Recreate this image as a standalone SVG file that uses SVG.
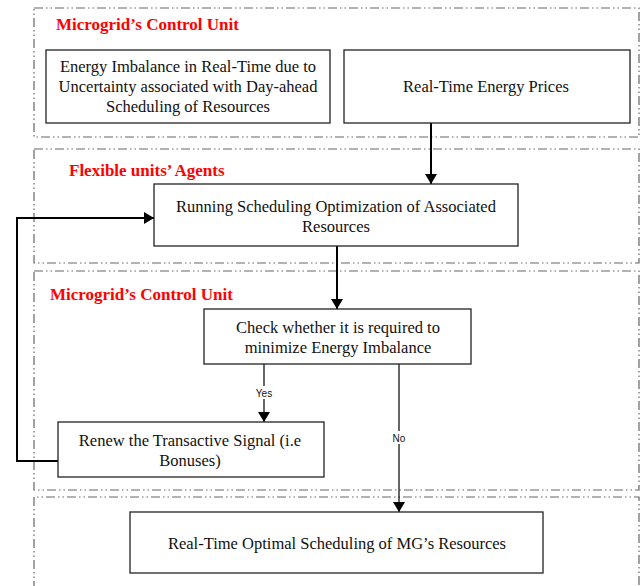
<svg xmlns="http://www.w3.org/2000/svg" width="644" height="586" viewBox="0 0 644 586">
<style>
.grp{fill:none;stroke:#666;stroke-width:1.2;stroke-dasharray:9 3 1.5 3 1.5 3}
.box{fill:#fff;stroke:#222;stroke-width:1.3}
.t{font-family:"Liberation Serif","Times New Roman",serif;font-size:16.5px;fill:#111;text-anchor:middle}
.h{font-family:"Liberation Serif","Times New Roman",serif;font-size:17px;font-weight:bold;fill:#ff0000}
.lbl{font-family:"Liberation Sans",Arial,sans-serif;font-size:10px;fill:#111;text-anchor:middle}
.c{fill:none;stroke:#000;stroke-width:2}
.c1{fill:none;stroke:#000;stroke-width:1.2}
</style>
<defs>
<marker id="ah" markerWidth="10" markerHeight="12" refX="10" refY="6" orient="auto" markerUnits="userSpaceOnUse">
<path d="M0,0 L10,6 L0,12 Z" fill="#000"/>
</marker>
</defs>
<rect width="644" height="586" fill="#fff"/>
<g id="groups">
<rect class="grp" x="34" y="8" width="605" height="129"/>
<rect class="grp" x="34" y="149" width="605" height="114"/>
<rect class="grp" x="34" y="271" width="605" height="219"/>
<path class="grp" d="M34,590 L34,497 L639,497 L639,590"/>
<text class="h" x="56" y="30">Microgrid’s Control Unit</text>
<text class="h" x="69" y="176">Flexible units’ Agents</text>
<text class="h" x="50" y="300">Microgrid’s Control Unit</text>
</g>
<g id="connectors">
<line class="c" x1="431" y1="123" x2="431" y2="184" marker-end="url(#ah)"/>
<line class="c" x1="337" y1="246" x2="337" y2="309" marker-end="url(#ah)"/>
<polyline class="c" points="58,461 17,461 17,218 154,218" marker-end="url(#ah)"/>
<line class="c1" x1="264" y1="364" x2="264" y2="422" marker-end="url(#ah)"/>
<line class="c1" x1="399" y1="364" x2="399" y2="512" marker-end="url(#ah)"/>
<rect x="254" y="386" width="20" height="13" fill="#fff"/>
<text class="lbl" x="264" y="397">Yes</text>
<rect x="390" y="431" width="18" height="13" fill="#fff"/>
<text class="lbl" x="399" y="442">No</text>
</g>
<g id="n1">
<rect class="box" x="46" y="50" width="284" height="73"/>
<text class="t" x="188" y="72">Energy Imbalance in Real-Time due to</text>
<text class="t" x="188" y="92">Uncertainty associated with Day-ahead</text>
<text class="t" x="188" y="112">Scheduling of Resources</text>
</g>
<g id="n2">
<rect class="box" x="344" y="50" width="286" height="73"/>
<text class="t" x="486" y="92">Real-Time Energy Prices</text>
</g>
<g id="n3">
<rect class="box" x="154" y="184" width="364" height="62"/>
<text class="t" x="336" y="212">Running Scheduling Optimization of Associated</text>
<text class="t" x="336" y="232">Resources</text>
</g>
<g id="n4">
<rect class="box" x="204" y="309" width="267" height="55"/>
<text class="t" x="338" y="333">Check whether it is required to</text>
<text class="t" x="338" y="353">minimize Energy Imbalance</text>
</g>
<g id="n5">
<rect class="box" x="58" y="422" width="266" height="55"/>
<text class="t" x="190" y="446">Renew the Transactive Signal (i.e</text>
<text class="t" x="190" y="466">Bonuses)</text>
</g>
<g id="n6">
<rect class="box" x="130" y="512" width="413" height="61"/>
<text class="t" x="337" y="549">Real-Time Optimal Scheduling of MG’s Resources</text>
</g>
</svg>
